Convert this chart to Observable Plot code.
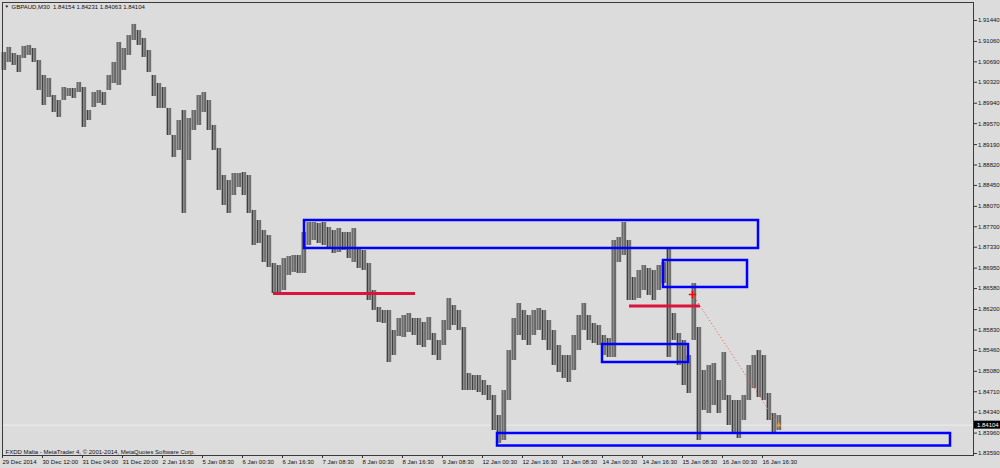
<!DOCTYPE html>
<html>
<head>
<meta charset="utf-8">
<script src="https://cdn.jsdelivr.net/npm/d3@7"></script>
<script src="https://cdn.jsdelivr.net/npm/@observablehq/plot@0.6"></script>
<style>
  html, body { margin: 0; padding: 0; background: #dcdcdc; }
  #chart { width: 1000px; height: 468px; }
</style>
</head>
<body>
<div id="chart"></div>
<script>
// ---- Data (GBPAUD M30, each entry aggregates 4 bars) ----
const barHigh = [
  1.90860,1.90951,1.90842,1.90806,1.90969,1.90987,1.90932,1.90715,1.90443,1.90389,
  1.90080,1.89990,1.90225,1.90207,1.90207,1.90316,1.90225,1.89808,1.90135,1.90171,
  1.90135,1.90443,1.90679,1.91041,1.90932,1.91168,1.91368,1.91259,1.91114,1.90896,
  1.90443,1.90298,1.90225,1.89845,1.89355,1.89627,1.89808,1.89663,1.89808,1.90080,
  1.90135,1.89990,1.89537,1.89120,1.88630,1.88539,1.88666,1.88666,1.88684,1.88630,
  1.87996,1.87814,1.87633,1.87542,1.87035,1.86998,1.87125,1.87162,1.87180,1.87180,
  1.87597,1.87778,1.87778,1.87760,1.87778,1.87687,1.87633,1.87669,1.87597,1.87597,
  1.87669,1.87325,1.87270,1.87035,1.86545,1.86237,1.86183,1.86183,1.85820,1.86038,
  1.86092,1.86128,1.86038,1.86038,1.85965,1.86056,1.85766,1.85639,1.86001,1.86400,
  1.86273,1.86183,1.85874,1.85040,1.85004,1.85004,1.84914,1.84823,1.84642,1.84279,
  1.84732,1.85457,1.86038,1.86310,1.86183,1.86092,1.86183,1.86219,1.86183,1.86001,
  1.85820,1.85548,1.85367,1.85367,1.85729,1.86092,1.86310,1.86092,1.85947,1.85911,
  1.85729,1.85675,1.87452,1.87506,1.87778,1.87452,1.86781,1.86908,1.86998,1.86944,
  1.86908,1.86998,1.87053,1.87307,1.86128,1.85766,1.85639,1.85367,1.86672,1.85874,
  1.85095,1.85186,1.85222,1.84914,1.85421,1.84642,1.84551,1.84551,1.84642,1.85186,
  1.85367,1.85457,1.85367,1.84678,1.84315,1.84279
];
const barLow = [
  1.90534,1.90679,1.90624,1.90497,1.90751,1.90806,1.90679,1.90171,1.89899,1.90044,
  1.89772,1.89682,1.89990,1.90062,1.90026,1.90135,1.89500,1.89627,1.89863,1.89935,
  1.89899,1.90171,1.90298,1.90262,1.90534,1.90806,1.91077,1.90987,1.90769,1.90497,
  1.90062,1.89845,1.89845,1.89355,1.88956,1.89083,1.87941,1.88902,1.89446,1.89537,
  1.89772,1.89446,1.89083,1.88358,1.88086,1.87941,1.88267,1.88412,1.88267,1.87941,
  1.87361,1.87397,1.87053,1.86962,1.86491,1.86491,1.86545,1.86817,1.86872,1.86853,
  1.86853,1.87361,1.87452,1.87397,1.87361,1.87307,1.87216,1.87234,1.87270,1.87125,
  1.87053,1.86944,1.86908,1.86364,1.86183,1.85965,1.85947,1.85240,1.85367,1.85711,
  1.85693,1.85784,1.85729,1.85548,1.85512,1.85639,1.85367,1.85276,1.85548,1.85820,
  1.85911,1.85820,1.84732,1.84732,1.84732,1.84696,1.84642,1.84551,1.84007,1.83771,
  1.83826,1.84551,1.85276,1.85729,1.85639,1.85548,1.85729,1.85820,1.85639,1.85457,
  1.85186,1.85059,1.84950,1.84877,1.85095,1.85457,1.85820,1.85639,1.85584,1.85548,
  1.85367,1.85331,1.85331,1.87053,1.87180,1.86364,1.86364,1.86400,1.86545,1.86455,
  1.86364,1.86545,1.86672,1.85331,1.85639,1.85186,1.84823,1.84678,1.85639,1.83826,
  1.84370,1.84315,1.84460,1.84315,1.84551,1.84098,1.83953,1.83862,1.84188,1.84551,
  1.84769,1.84605,1.84551,1.84188,1.83971,1.84007
];

const priceTicks = [1.91440,1.91060,1.90690,1.90320,1.89940,1.89570,1.89190,1.88820,1.88450,1.88070,
  1.87700,1.87330,1.86950,1.86580,1.86200,1.85830,1.85460,1.85080,1.84710,1.84340,1.83960,1.83590];

const timeTickBars = [0,32,64,96,128,160,192,224,256,288,320,352,384,416,448,480,512,544,576,608];
const timeLabels = ["29 Dec 2014","30 Dec 12:00","31 Dec 04:00","31 Dec 20:00","2 Jan 16:30",
  "5 Jan 08:30","6 Jan 00:30","6 Jan 16:30","7 Jan 08:30","8 Jan 00:30","8 Jan 16:30",
  "9 Jan 08:30","12 Jan 00:30","12 Jan 16:30","13 Jan 08:30","14 Jan 00:30","14 Jan 16:30",
  "15 Jan 08:30","16 Jan 00:30","16 Jan 16:30"];

// Blue zones (bar index, price)
const zoneStart  = [241.6, 528.8, 480.0, 396.0];
const zoneEnd    = [604.8, 596.0, 548.8, 758.4];
const zoneTop    = [1.87814, 1.87089, 1.85566, 1.83953];
const zoneBottom = [1.87307, 1.86600, 1.85240, 1.83726];

// Red support levels
const levelPrice = [1.86491, 1.86264];
const levelStart = [216.8, 501.6];
const levelEnd   = [330.4, 558.4];

// Dotted trend line
const trendBars   = [552, 620];
const trendPrices = [1.86473, 1.84134];

const currentPrice = 1.84104;
const header = "GBPAUD,M30  1.84154 1.84231 1.84063 1.84104";
const footer = "FXDD Malta - MetaTrader 4, \u00A9 2001-2014, MetaQuotes Software Corp.";

// ---- Build tables ----
const bars = barHigh.map((h, i) => {
  const mid = (h + barLow[i]) / 2;
  const prevMid = i > 0 ? (barHigh[i-1] + barLow[i-1]) / 2 : mid;
  return {bar: i * 4 + 1, high: h, low: barLow[i], up: mid >= prevMid};
});
const zones = zoneStart.map((s, i) => ({x1: s, x2: zoneEnd[i], y1: zoneTop[i], y2: zoneBottom[i]}));
const levels = levelPrice.map((p, i) => ({y: p, x1: levelStart[i], x2: levelEnd[i]}));
const trend = [{x1: trendBars[0], y1: trendPrices[0], x2: trendBars[1], y2: trendPrices[1]}];
const labelMap = new Map(timeTickBars.map((b, i) => [b, timeLabels[i]]));

const font = "'Liberation Sans', Arial, sans-serif";

const chart = Plot.plot({
  width: 1000,
  height: 468,
  marginLeft: 2,
  marginRight: 27,
  marginTop: 2,
  marginBottom: 13,
  style: {background: "#dcdcdc", fontFamily: font, fontSize: "6px", color: "#000", overflow: "visible"},
  x: {domain: [0, 776.8], axis: null},
  y: {domain: [1.83554, 1.91766], axis: null},
  marks: [
    Plot.ruleY([currentPrice], {stroke: "#ededf5", strokeWidth: 1}),
    // bar ribbon: light body plus thin dark bar strokes for the MT4 bar texture
    Plot.ruleX(bars, {x: "bar", y1: "low", y2: "high", stroke: "#8e8e8e", strokeWidth: 5}),
    Plot.ruleX(bars, {x: "bar", y1: "low", y2: "high",
      stroke: d => d.up ? "#6a6a6a" : "#3c3c3c", strokeWidth: 1, dx: -1.2}),
    Plot.ruleX(bars, {x: "bar", y1: "low", y2: "high",
      stroke: d => d.up ? "#4a4a4a" : "#5a5a5a", strokeWidth: 1, dx: 1.3}),
    Plot.rect(zones, {x1: "x1", x2: "x2", y1: "y1", y2: "y2", fill: "none", stroke: "#0000ff", strokeWidth: 2.5}),
    Plot.ruleY(levels, {y: "y", x1: "x1", x2: "x2", stroke: "#dc143c", strokeWidth: 3}),
    Plot.link(trend, {x1: "x1", y1: "y1", x2: "x2", y2: "y2", stroke: "#ff5a5a", strokeWidth: 1, strokeDasharray: "1.2,2.2"}),
    Plot.dot([trend[0]], {x: "x1", y: "y1", symbol: "plus", r: 2.5, stroke: "#ff0000", strokeWidth: 1.5}),
    Plot.dot([{x: trendBars[1] + 1, y: currentPrice}], {x: "x", y: "y", symbol: "triangle", r: 1.8, fill: "#f0a020", stroke: "none"}),
    Plot.frame({stroke: "#3a3a3a", strokeWidth: 1}),
    Plot.axisY(priceTicks, {anchor: "right", tickSize: 3, tickPadding: 1.5,
      tickFormat: d => d.toFixed(5), fontSize: 6, fill: "#111", stroke: "#333"}),
    Plot.axisX(timeTickBars, {anchor: "bottom", tickSize: 3, tickPadding: 1.5,
      tickFormat: d => labelMap.get(d), textAnchor: "start", dx: 0, fontSize: 6, fill: "#111", stroke: "#333"}),
    Plot.text([header], {frameAnchor: "top-left", text: d => d, dx: 9, dy: 2, lineAnchor: "top",
      textAnchor: "start", fontSize: 6, fill: "#111"}),
    Plot.text(["\u25BC"], {frameAnchor: "top-left", text: d => d, dx: 2, dy: 2.5, lineAnchor: "top",
      textAnchor: "start", fontSize: 4.5, fill: "#111"}),
    Plot.text([footer], {frameAnchor: "bottom-left", text: d => d, dx: 3, dy: -1.5, lineAnchor: "bottom",
      textAnchor: "start", fontSize: 6, fill: "#111"})
  ]
});

document.getElementById("chart").appendChild(chart);

// Current price tag on the right axis, placed through the plot's own y scale
const yPix = chart.scale("y").apply(currentPrice);
const svg = d3.select(chart);
const tag = svg.append("g");
tag.append("rect").attr("x", 974).attr("y", yPix - 4).attr("width", 26).attr("height", 8).attr("fill", "#000");
tag.append("text").attr("x", 977).attr("y", yPix).attr("dy", "0.35em").attr("text-anchor", "start")
  .attr("font-family", font).attr("font-size", 6).attr("fill", "#fff").text(currentPrice.toFixed(5));
</script>
</body>
</html>
